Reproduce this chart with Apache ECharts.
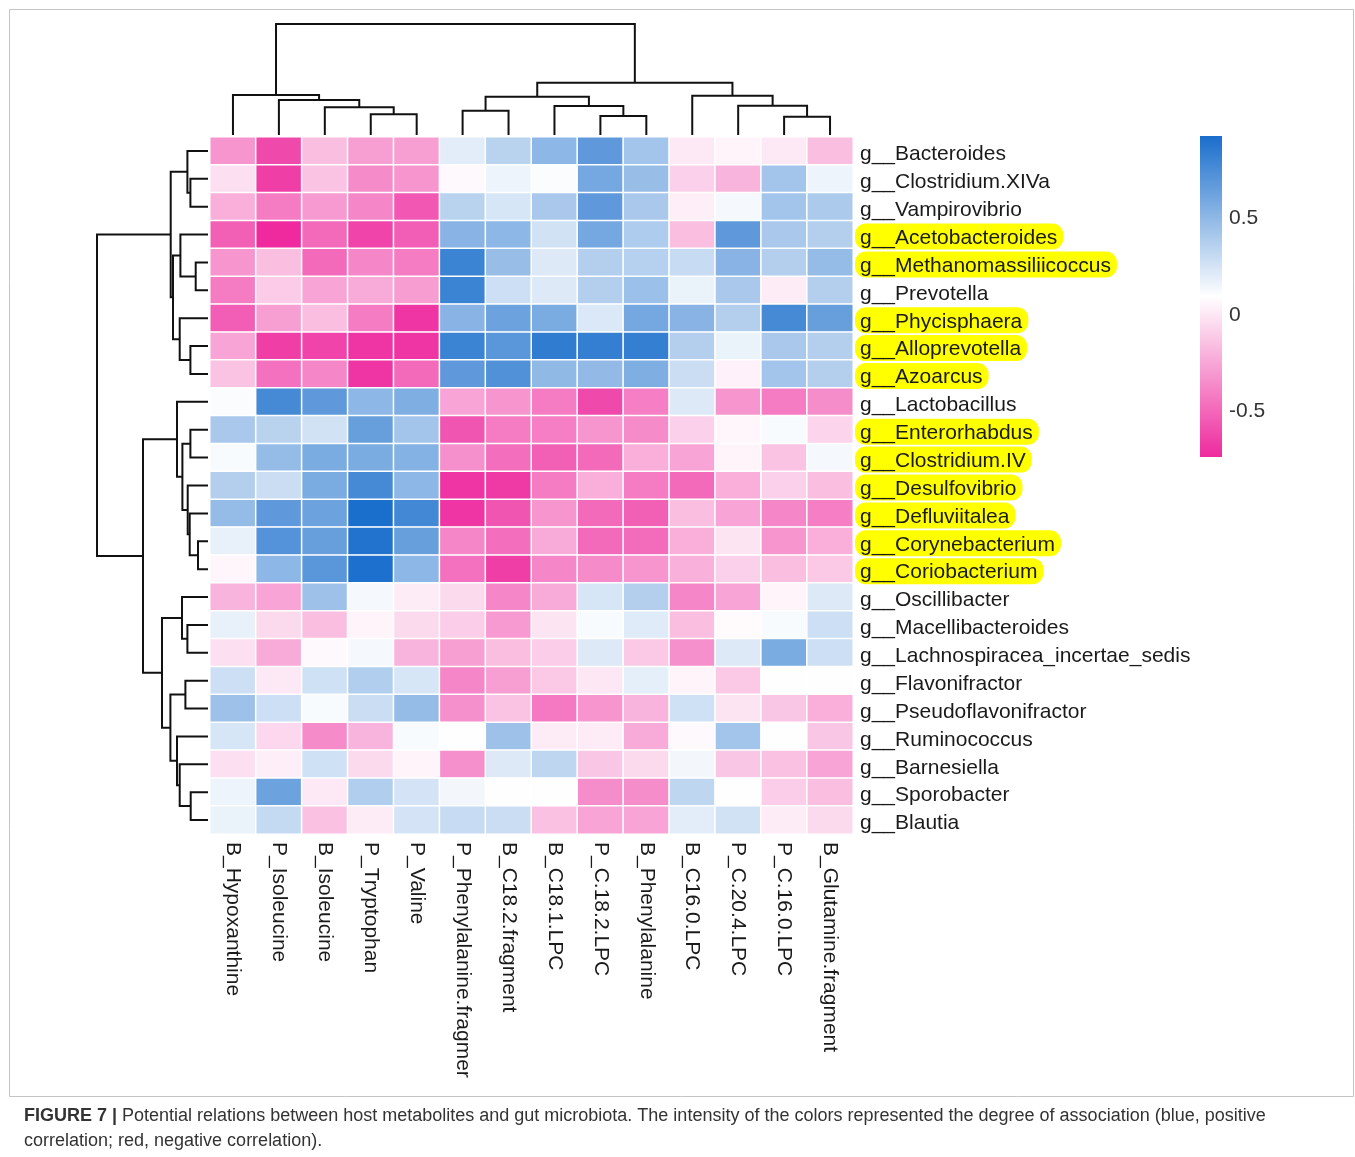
<!DOCTYPE html>
<html>
<head>
<meta charset="utf-8">
<script src="https://cdn.jsdelivr.net/npm/echarts@6/dist/echarts.min.js"></script>
<style>
  html, body { margin: 0; padding: 0; background: #fff; }
  #chart { width: 1355px; height: 1157px; }
</style>
</head>
<body>
<div id="chart"></div>
<script>
// Host metabolites (columns, in dendrogram order)
const metabolites = ['B_Hypoxanthine', 'P_Isoleucine', 'B_Isoleucine', 'P_Tryptophan', 'P_Valine',
  'P_Phenylalanine.fragmer', 'B_C18.2.fragment', 'B_C18.1.LPC', 'P_C.18.2.LPC', 'B_Phenylalanine',
  'B_C16.0.LPC', 'P_C.20.4.LPC', 'P_C.16.0.LPC', 'B_Glutamine.fragment'];

// Gut microbiota genera (rows, in dendrogram order)
const genera = ['g__Bacteroides', 'g__Clostridium.XIVa', 'g__Vampirovibrio', 'g__Acetobacteroides',
  'g__Methanomassiliicoccus', 'g__Prevotella', 'g__Phycisphaera', 'g__Alloprevotella', 'g__Azoarcus',
  'g__Lactobacillus', 'g__Enterorhabdus', 'g__Clostridium.IV', 'g__Desulfovibrio', 'g__Defluviitalea',
  'g__Corynebacterium', 'g__Coriobacterium', 'g__Oscillibacter', 'g__Macellibacteroides',
  'g__Lachnospiracea_incertae_sedis', 'g__Flavonifractor', 'g__Pseudoflavonifractor', 'g__Ruminococcus',
  'g__Barnesiella', 'g__Sporobacter', 'g__Blautia'];

// Genera marked in yellow
const highlighted = ['g__Acetobacteroides', 'g__Methanomassiliicoccus', 'g__Phycisphaera', 'g__Alloprevotella',
  'g__Azoarcus', 'g__Enterorhabdus', 'g__Clostridium.IV', 'g__Desulfovibrio', 'g__Defluviitalea',
  'g__Corynebacterium', 'g__Coriobacterium'];

// Correlation coefficients, one array per genus (column order as above)
const bacteroides          = [-0.32, -0.62, -0.16, -0.28, -0.28,  0.20,  0.35,  0.51,  0.68,  0.43,  0.01,  0.05,  0.01, -0.16];
const clostridiumXIVa      = [-0.03, -0.66, -0.14, -0.36, -0.32,  0.07,  0.16,  0.11,  0.60,  0.47, -0.09, -0.20,  0.43,  0.16];
const vampirovibrio        = [-0.22, -0.42, -0.30, -0.38, -0.56,  0.35,  0.24,  0.41,  0.68,  0.41,  0.03,  0.13,  0.43,  0.40];
const acetobacteroides     = [-0.53, -0.74, -0.49, -0.64, -0.54,  0.53,  0.51,  0.26,  0.60,  0.39, -0.16,  0.68,  0.41,  0.37];
const methanomassiliicoccus= [-0.32, -0.16, -0.49, -0.38, -0.42,  0.81,  0.47,  0.22,  0.37,  0.36,  0.30,  0.53,  0.37,  0.48];
const prevotella           = [-0.42, -0.11, -0.26, -0.24, -0.29,  0.81,  0.28,  0.22,  0.37,  0.46,  0.17,  0.41,  0.02,  0.37];
const phycisphaera         = [-0.54, -0.28, -0.16, -0.42, -0.70,  0.53,  0.63,  0.58,  0.23,  0.60,  0.53,  0.37,  0.77,  0.65];
const alloprevotella       = [-0.26, -0.66, -0.64, -0.70, -0.70,  0.81,  0.70,  0.85,  0.83,  0.83,  0.37,  0.17,  0.41,  0.37];
const azoarcus             = [-0.14, -0.46, -0.38, -0.70, -0.49,  0.68,  0.73,  0.50,  0.49,  0.56,  0.29,  0.04,  0.43,  0.37];
const lactobacillus        = [ 0.11,  0.77,  0.68,  0.51,  0.56, -0.26, -0.32, -0.42, -0.62, -0.41,  0.22, -0.32, -0.42, -0.35];
const enterorhabdus        = [ 0.41,  0.35,  0.26,  0.65,  0.43, -0.57, -0.42, -0.41, -0.32, -0.36, -0.09,  0.06,  0.12, -0.07];
const clostridiumIV        = [ 0.12,  0.48,  0.58,  0.58,  0.54, -0.34, -0.47, -0.53, -0.49, -0.22, -0.26,  0.05, -0.14,  0.13];
const desulfovibrio        = [ 0.37,  0.29,  0.58,  0.77,  0.51, -0.70, -0.68, -0.42, -0.22, -0.42, -0.49, -0.22, -0.09, -0.16];
const defluviitalea        = [ 0.48,  0.68,  0.63,  0.93,  0.78, -0.70, -0.57, -0.32, -0.49, -0.53, -0.16, -0.26, -0.38, -0.41];
const corynebacterium      = [ 0.18,  0.72,  0.65,  0.90,  0.65, -0.38, -0.47, -0.24, -0.49, -0.48, -0.22, -0.01, -0.32, -0.22];
const coriobacterium       = [ 0.06,  0.51,  0.70,  0.92,  0.51, -0.46, -0.66, -0.38, -0.36, -0.32, -0.21, -0.09, -0.16, -0.12];
const oscillibacter        = [-0.20, -0.26,  0.45,  0.13,  0.02, -0.05, -0.38, -0.24,  0.24,  0.37, -0.38, -0.26,  0.05,  0.22];
const macellibacteroides   = [ 0.18, -0.05, -0.16,  0.05, -0.05, -0.10, -0.30, -0.01,  0.12,  0.21, -0.16,  0.08,  0.12,  0.28];
const lachnospiracea       = [-0.03, -0.24,  0.07,  0.13, -0.20, -0.28, -0.16, -0.10,  0.22, -0.12, -0.34,  0.22,  0.58,  0.28];
const flavonifractor       = [ 0.28,  0.01,  0.27,  0.38,  0.24, -0.38, -0.28, -0.12,  0.00,  0.19,  0.05, -0.12,  0.10,  0.10];
const pseudoflavonifractor = [ 0.45,  0.28,  0.12,  0.29,  0.48, -0.34, -0.14, -0.43, -0.32, -0.20,  0.27, -0.01, -0.13, -0.22];
const ruminococcus         = [ 0.24, -0.06, -0.36, -0.20,  0.12,  0.09,  0.45,  0.02,  0.02, -0.24,  0.07,  0.43,  0.10, -0.13];
const barnesiella          = [-0.03,  0.03,  0.27, -0.05,  0.05, -0.34,  0.22,  0.33, -0.13, -0.05,  0.14, -0.13, -0.15, -0.26];
const sporobacter          = [ 0.16,  0.63,  0.01,  0.38,  0.25,  0.14,  0.10,  0.10, -0.35, -0.35,  0.33,  0.10, -0.10, -0.16];
const blautia              = [ 0.17,  0.31, -0.15,  0.02,  0.25,  0.30,  0.29, -0.15, -0.26, -0.26,  0.20,  0.26,  0.02, -0.05];

const corrRows = [bacteroides, clostridiumXIVa, vampirovibrio, acetobacteroides, methanomassiliicoccus,
  prevotella, phycisphaera, alloprevotella, azoarcus, lactobacillus, enterorhabdus, clostridiumIV,
  desulfovibrio, defluviitalea, corynebacterium, coriobacterium, oscillibacter, macellibacteroides,
  lachnospiracea, flavonifractor, pseudoflavonifractor, ruminococcus, barnesiella, sporobacter, blautia];

// Column clustering (hclust-style: negative = leaf, positive = earlier merge) and merge heights
const colMerge = [[-4, -5], [-3, 1], [-2, 2], [-1, 3], [-9, -10], [-8, 5], [-6, -7], [7, 6],
  [-13, -14], [-12, 9], [-11, 10], [8, 11], [4, 12]];
const colHeight = [20.7, 27.7, 35, 40, 19, 29, 24.3, 38.3, 18.3, 29.3, 39.3, 52.3, 111];

// Row clustering and merge heights
const rowMerge = [[-2, -3], [-1, 1], [-5, -6], [-4, 3], [-8, -9], [-7, 5], [4, 6], [2, 7],
  [-15, -16], [-14, 9], [-13, 10], [-11, -12], [12, 11], [-10, 13],
  [-18, -19], [-17, 15], [-20, -21], [-24, -25], [-23, 18], [-22, 19], [17, 20], [16, 21], [14, 22], [8, 23]];
const rowHeight = [17.6, 20.6, 12.3, 27.6, 17.6, 28.3, 35, 37.3, 10, 18.3, 20.3, 17.6, 25.6, 31,
  20.6, 26, 22.6, 17.3, 28.3, 31, 37.6, 46, 65, 111];

// Colour bar tick labels
const colorTicks = [-0.5, 0, 0.5];

const NEG = '#EE2A9E', MID = '#FFFFFF', POS = '#1A6ECC';
const FONT = '"Liberation Sans", Arial, sans-serif';
const LABEL_SIZE = 21;

const flat = corrRows.flat();
const corrMin = Math.min(...flat);
const corrMax = Math.max(...flat);

const heatData = [];
corrRows.forEach((row, r) => row.forEach((v, c) => heatData.push([c, r, v])));

// Turn a merge table into one U-shaped link per merge: [posA, hA, posB, hB, h]
function dendroLinks(merge, heights) {
  const pos = [], hgt = [];
  const at = id => id < 0 ? [-id - 1, 0] : [pos[id - 1], hgt[id - 1]];
  return merge.map(([a, b], k) => {
    const [pa, ha] = at(a), [pb, hb] = at(b);
    pos[k] = (pa + pb) / 2;
    hgt[k] = heights[k];
    return [pa, ha, pb, hb, heights[k]];
  });
}
const colLinks = dendroLinks(colMerge, colHeight);
const rowLinks = dendroLinks(rowMerge, rowHeight);

const linkStyle = { stroke: '#111', lineWidth: 2, fill: null, lineJoin: 'miter' };

const heat = { left: 210, top: 137, width: 643, height: 697 };

const chart = echarts.init(document.getElementById('chart'), null, { renderer: 'canvas' });
chart.setOption({
  animation: false,
  backgroundColor: '#fff',
  grid: [
    { left: heat.left, top: heat.top, width: heat.width, height: heat.height },
    { left: heat.left, top: 24, width: heat.width, height: 111 },
    { left: 97, top: heat.top, width: 111, height: heat.height },
    { left: 1200, top: 136, width: 22, height: 321 }
  ],
  xAxis: [
    {
      gridIndex: 0, type: 'category', data: metabolites, position: 'bottom',
      axisLine: { show: false }, axisTick: { show: false }, splitLine: { show: false },
      axisLabel: { rotate: -90, margin: 8, fontSize: LABEL_SIZE, fontFamily: FONT, color: '#1a1a1a',
                   interval: 0, padding: [9, 0, 0, 0] }
    },
    { gridIndex: 1, type: 'value', min: -0.5, max: metabolites.length - 0.5, show: false },
    { gridIndex: 2, type: 'value', min: 0, max: rowHeight[rowHeight.length - 1], inverse: true, show: false },
    { gridIndex: 3, type: 'value', min: 0, max: 1, show: false }
  ],
  yAxis: [
    {
      gridIndex: 0, type: 'category', data: genera, inverse: true, position: 'right',
      axisLine: { show: false }, axisTick: { show: false }, splitLine: { show: false },
      axisLabel: {
        margin: 2, interval: 0, padding: [4, 0, 0, 0],
        formatter: v => (highlighted.includes(v) ? '{hl|' : '{n|') + v + '}',
        rich: {
          hl: { fontSize: LABEL_SIZE, fontFamily: FONT, color: '#1a1a1a', backgroundColor: '#FFFF00',
                borderRadius: 11, padding: [4, 6, 1, 5] },
          n: { fontSize: LABEL_SIZE, fontFamily: FONT, color: '#1a1a1a', padding: [4, 6, 1, 5] }
        }
      }
    },
    { gridIndex: 1, type: 'value', min: 0, max: colHeight[colHeight.length - 1], show: false },
    { gridIndex: 2, type: 'value', min: -0.5, max: genera.length - 0.5, inverse: true, show: false },
    {
      gridIndex: 3, type: 'value', min: corrMin, max: corrMax, position: 'right',
      axisLine: { show: false }, axisTick: { show: false }, splitLine: { show: false },
      axisLabel: { customValues: colorTicks, formatter: v => String(v), margin: 7,
                   fontSize: LABEL_SIZE, fontFamily: FONT, color: '#333' }
    }
  ],
  visualMap: {
    type: 'continuous', show: false, seriesIndex: 0,
    min: corrMin, max: corrMax,
    inRange: { color: [NEG, MID, POS] }
  },
  series: [
    {
      type: 'heatmap', xAxisIndex: 0, yAxisIndex: 0, data: heatData,
      itemStyle: { borderColor: '#fff', borderWidth: 1.5 },
      emphasis: { disabled: true }
    },
    {
      // column dendrogram
      type: 'custom', xAxisIndex: 1, yAxisIndex: 1, clip: false, data: colLinks,
      renderItem: (params, api) => {
        const pa = api.value(0), ha = api.value(1), pb = api.value(2), hb = api.value(3), h = api.value(4);
        const pts = [[pa, ha], [pa, h], [pb, h], [pb, hb]].map(p => api.coord(p));
        return { type: 'polyline', shape: { points: pts }, style: linkStyle };
      }
    },
    {
      // row dendrogram
      type: 'custom', xAxisIndex: 2, yAxisIndex: 2, clip: false, data: rowLinks,
      renderItem: (params, api) => {
        const pa = api.value(0), ha = api.value(1), pb = api.value(2), hb = api.value(3), h = api.value(4);
        const pts = [[ha, pa], [h, pa], [h, pb], [hb, pb]].map(p => api.coord(p));
        return { type: 'polyline', shape: { points: pts }, style: linkStyle };
      }
    },
    {
      // colour bar
      type: 'custom', xAxisIndex: 3, yAxisIndex: 3, clip: false, data: [[0, corrMin, 1, corrMax]],
      renderItem: (params, api) => {
        const p1 = api.coord([api.value(0), api.value(3)]);
        const p2 = api.coord([api.value(2), api.value(1)]);
        return {
          type: 'rect',
          shape: { x: p1[0], y: p1[1], width: p2[0] - p1[0], height: p2[1] - p1[1] },
          style: {
            fill: {
              type: 'linear', x: 0, y: 0, x2: 0, y2: 1,
              colorStops: [{ offset: 0, color: POS }, { offset: 0.5, color: MID }, { offset: 1, color: NEG }]
            }
          }
        };
      }
    }
  ],
  graphic: [
    {
      type: 'rect', silent: true, z: -1,
      shape: { x: 9.5, y: 9.5, width: 1344, height: 1087 },
      style: { fill: null, stroke: '#c4c4c4', lineWidth: 1 }
    },
    {
      type: 'text', left: 24, top: 1104, silent: true,
      style: {
        text: '{b|FIGURE 7 |} Potential relations between host metabolites and gut microbiota. The intensity of the colors represented the degree of association (blue, positive\ncorrelation; red, negative correlation).',
        font: '18px ' + FONT, fill: '#333', lineHeight: 25,
        rich: { b: { fontWeight: 'bold', fontSize: 18, fontFamily: FONT, fill: '#333', lineHeight: 25 } }
      }
    }
  ]
});
</script>
</body>
</html>
